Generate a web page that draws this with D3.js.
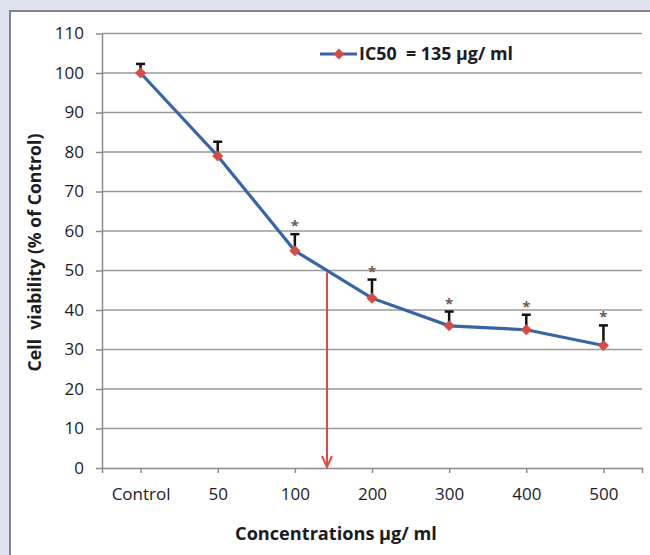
<!DOCTYPE html>
<html>
<head>
<meta charset="utf-8">
<script src="https://cdn.jsdelivr.net/npm/d3@7"></script>
<style>
html,body{margin:0;padding:0;background:#dfe3f1;}
svg{display:block;}
text{font-family:"Open Sans",Lato,sans-serif;fill:#1b1b24;}
</style>
</head>
<body>
<svg id="chart" width="650" height="555"></svg>
<script>
const categories = ["Control", "50", "100", "200", "300", "400", "500"];
const viability = [100, 79, 55, 43, 36, 35, 31];
const errorUp = [2.3, 3.6, 4.2, 4.7, 3.6, 3.8, 5.1];
const significant = [false, false, true, true, true, true, true];
const yTicks = [0, 10, 20, 30, 40, 50, 60, 70, 80, 90, 100, 110];
const ic50Level = 50;
const legendLabel = "IC50  = 135 \u00b5g/ ml";
const xTitle = "Concentrations \u00b5g/ ml";
const yTitle = "Cell  viability (% of Control)";

const FONT = "'Open Sans', Lato, sans-serif";
const svg = d3.select("#chart");
const plotLeft = 102, plotRight = 642, plotTop = 33.5, plotBottom = 468;

function fitWidth(sel, target) {
  sel.attr("font-size", 16);
  const w = sel.node().getComputedTextLength();
  if (w > 0) sel.attr("font-size", 16 * target / w);
  return sel;
}

// frame
svg.append("rect").attr("x", 10).attr("y", 11).attr("width", 700).attr("height", 600)
  .attr("fill", "#fff").attr("stroke", "#5c5f6e").attr("stroke-width", 1.5);

const x = d3.scalePoint().domain(categories).range([plotLeft, plotRight]).padding(0.5);
const y = d3.scaleLinear().domain([0, 110]).range([plotBottom, plotTop]);

// gridlines
svg.append("g").selectAll("line").data(yTicks.filter(d => d > 0)).join("line")
  .attr("x1", plotLeft).attr("x2", plotRight)
  .attr("y1", d => y(d)).attr("y2", d => y(d))
  .attr("stroke", "#9a9a9a").attr("stroke-width", 1.5);

// y axis
const yAxis = d3.axisLeft(y).tickValues(yTicks).tickSize(6).tickPadding(12).tickSizeOuter(0);
const gy = svg.append("g").attr("transform", `translate(${plotLeft},0)`).call(yAxis);
gy.select(".domain").attr("stroke", "#8c8c8c").attr("stroke-width", 1.5);
gy.selectAll(".tick line").attr("stroke", "#8c8c8c").attr("stroke-width", 1.5);
gy.selectAll(".tick text").attr("font-size", 17).attr("font-family", FONT).attr("fill", "#1b1b24");

// x axis
const xAxis = d3.axisBottom(x).tickSize(5).tickPadding(15).tickSizeOuter(5);
const gx = svg.append("g").attr("transform", `translate(0,${plotBottom})`).call(xAxis);
gx.select(".domain").attr("stroke", "#8c8c8c").attr("stroke-width", 1.5);
gx.selectAll(".tick line").attr("stroke", "#8c8c8c").attr("stroke-width", 1.5);
gx.selectAll(".tick text").attr("font-size", 17).attr("font-family", FONT).attr("fill", "#1b1b24");

// data
const data = categories.map((c, i) => ({ c, v: viability[i], e: errorUp[i], s: significant[i] }));

// error bars (upper only)
const eb = svg.append("g");
eb.selectAll("line.v").data(data).join("line").attr("class", "v")
  .attr("x1", d => x(d.c)).attr("x2", d => x(d.c))
  .attr("y1", d => y(d.v)).attr("y2", d => y(d.v + d.e))
  .attr("stroke", "#111").attr("stroke-width", 2.5);
eb.selectAll("line.cap").data(data).join("line").attr("class", "cap")
  .attr("x1", d => x(d.c) - 4.5).attr("x2", d => x(d.c) + 4.5)
  .attr("y1", d => y(d.v + d.e)).attr("y2", d => y(d.v + d.e))
  .attr("stroke", "#111").attr("stroke-width", 2.5);

// line
svg.append("path").datum(data)
  .attr("d", d3.line().x(d => x(d.c)).y(d => y(d.v)))
  .attr("fill", "none").attr("stroke", "#3565a8").attr("stroke-width", 3.2);

// markers
const diamond = d3.symbol().type(d3.symbolSquare).size(62);
svg.append("g").selectAll("path").data(data).join("path")
  .attr("d", diamond)
  .attr("transform", d => `translate(${x(d.c)},${y(d.v)}) rotate(45)`)
  .attr("fill", "#d84a44");

// significance stars
svg.append("g").selectAll("text").data(data.filter(d => d.s)).join("text")
  .attr("x", d => x(d.c)).attr("y", d => y(d.v + d.e) - 3)
  .attr("text-anchor", "middle").attr("font-size", 15).attr("font-weight", "bold")
  .style("fill", "#6e5a4e").text("*");

// IC50 arrow: where the line crosses the 50% level
let ax = null;
for (let i = 0; i < data.length - 1; i++) {
  const a = data[i], b = data[i + 1];
  if (a.v >= ic50Level && b.v <= ic50Level) {
    const t = (a.v - ic50Level) / (a.v - b.v);
    ax = x(a.c) + t * (x(b.c) - x(a.c));
    break;
  }
}
const arrow = svg.append("g").attr("stroke", "#d94a48").attr("stroke-width", 2).attr("fill", "none");
arrow.append("line").attr("x1", ax).attr("x2", ax).attr("y1", y(ic50Level) + 2).attr("y2", y(0) - 1);
arrow.append("path").attr("d", `M${ax - 5},${y(0) - 12} L${ax},${y(0) - 1} L${ax + 5},${y(0) - 12}`);

// legend
const lg = svg.append("g");
lg.append("line").attr("x1", 320).attr("x2", 357).attr("y1", 54).attr("y2", 54)
  .attr("stroke", "#3565a8").attr("stroke-width", 3.2);
lg.append("path").attr("d", diamond).attr("transform", "translate(339,54) rotate(45)").attr("fill", "#d84a44");
const lt = lg.append("text").attr("x", 359).attr("y", 60).attr("font-weight", "bold")
  .style("white-space", "pre").text(legendLabel);
fitWidth(lt, 154);

// axis titles
const xt = svg.append("text").attr("x", 336).attr("y", 540).attr("text-anchor", "middle")
  .attr("font-weight", "bold").text(xTitle);
fitWidth(xt, 202);
const yt = svg.append("text").attr("transform", "translate(41,252.5) rotate(-90)").attr("text-anchor", "middle")
  .attr("font-weight", "bold").style("white-space", "pre").text(yTitle);
fitWidth(yt, 238);
</script>
</body>
</html>
